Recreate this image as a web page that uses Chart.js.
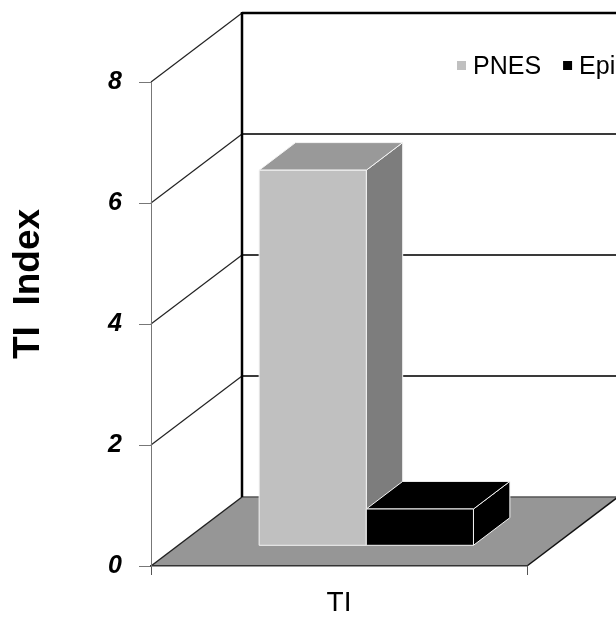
<!DOCTYPE html>
<html>
<head>
<meta charset="utf-8">
<script src="https://cdn.jsdelivr.net/npm/chart.js@4"></script>
<style>
  html, body { margin: 0; padding: 0; background: #fff; overflow: hidden; }
  #wrap { width: 616px; height: 618px; }
</style>
</head>
<body>
<div id="wrap"><canvas id="tiChart" width="616" height="618"></canvas></div>
<script>
// TI index, PNES vs epileptic patients
const categories = ['TI'];
const seriesNames = ['PNES', 'Epileptic'];
const pnesValues = [6.2];
const epiValues = [0.6];
const yTicks = [0, 2, 4, 6, 8];

const FONT = "'Liberation Sans', Arial, sans-serif";

// depth of the 3D box (floor / side wall) and where the bars sit inside it
const depth = { dx: 91, dy: -69 };
const barNear = 0.30;
const barFar = 0.70;

const faceColors = [
    { front: '#c0c0c0', top: '#999999', side: '#7d7d7d' },
    { front: '#000000', top: '#000000', side: '#000000' }
];

function poly(ctx, pts, fill, stroke, lw) {
    ctx.beginPath();
    ctx.moveTo(pts[0][0], pts[0][1]);
    for (let i = 1; i < pts.length; i++) ctx.lineTo(pts[i][0], pts[i][1]);
    ctx.closePath();
    if (fill) { ctx.fillStyle = fill; ctx.fill(); }
    if (stroke) { ctx.strokeStyle = stroke; ctx.lineWidth = lw || 1; ctx.stroke(); }
}

function line(ctx, x1, y1, x2, y2, color, lw) {
    ctx.beginPath();
    ctx.moveTo(x1, y1);
    ctx.lineTo(x2, y2);
    ctx.strokeStyle = color;
    ctx.lineWidth = lw;
    ctx.stroke();
}

const box3d = {
    id: 'box3d',
    beforeDraw(chart) {
        const { ctx, scales: { x, y } } = chart;
        const l = x.left, r = x.right;
        const y0 = y.getPixelForValue(0);
        const dx = depth.dx, dy = depth.dy;
        ctx.save();

        // floor
        poly(ctx, [[l, y0], [r, y0], [r + dx, y0 + dy], [l + dx, y0 + dy]], '#969696');
        line(ctx, l + dx, y0 + dy, r + dx, y0 + dy, '#555', 1.5);
        line(ctx, r, y0, r + dx, y0 + dy, '#111', 1.5);

        // back wall gridlines + side wall diagonals
        yTicks.forEach(v => {
            const py = y.getPixelForValue(v);
            if (v > 0) {
                const isTop = v === y.max;
                line(ctx, l + dx, py + dy, r + dx + 5, py + dy, isTop ? '#000' : '#3a3a3a', isTop ? 2.5 : 2);
            }
            line(ctx, l, py, l + dx, py + dy, '#222', v === 0 ? 1.5 : 1.2);
        });

        // back corner
        line(ctx, l + dx, y.getPixelForValue(y.max) + dy - 1, l + dx, y0 + dy, '#000', 2.5);
        ctx.restore();
    },
    afterDatasetsDraw(chart) {
        const { ctx, scales: { y } } = chart;
        const fx = depth.dx * barNear, fy = depth.dy * barNear;
        const bx = depth.dx * barFar, by = depth.dy * barFar;
        ctx.save();
        chart.data.datasets.forEach((ds, i) => {
            const meta = chart.getDatasetMeta(i);
            meta.data.forEach((el, j) => {
                const xl = el.x - el.width / 2, xr = el.x + el.width / 2;
                const yb = y.getPixelForValue(0);
                const yt = y.getPixelForValue(ds.data[j]);
                const c = faceColors[i];
                const edge = '#f4f4f4';
                poly(ctx, [[xr + fx, yt + fy], [xr + bx, yt + by], [xr + bx, yb + by], [xr + fx, yb + fy]], c.side, edge, 1);
                poly(ctx, [[xl + fx, yt + fy], [xl + bx, yt + by], [xr + bx, yt + by], [xr + fx, yt + fy]], c.top, edge, 1);
                poly(ctx, [[xl + fx, yt + fy], [xr + fx, yt + fy], [xr + fx, yb + fy], [xl + fx, yb + fy]], c.front, edge, 1);
            });
        });
        ctx.restore();
    },
    afterDraw(chart) {
        const { ctx } = chart;
        ctx.save();

        // legend
        ctx.font = '25px ' + FONT;
        ctx.textBaseline = 'alphabetic';
        let lx = 457;
        chart.data.datasets.forEach((ds, i) => {
            ctx.fillStyle = faceColors[i].front;
            ctx.fillRect(lx, 61, 9, 9);
            ctx.fillStyle = '#000';
            ctx.fillText(ds.label, lx + 16, 74);
            lx += 16 + ctx.measureText(ds.label).width + 22;
        });

        // y axis title
        ctx.translate(29, 284);
        ctx.rotate(-Math.PI / 2);
        ctx.font = 'bold 37px ' + FONT;
        ctx.textAlign = 'center';
        ctx.textBaseline = 'middle';
        ctx.fillStyle = '#000';
        ctx.fillText('TI  Index', 0, 0);
        ctx.restore();
    }
};

new Chart(document.getElementById('tiChart'), {
    type: 'bar',
    data: {
        labels: categories,
        datasets: [
            { label: seriesNames[0], data: pnesValues },
            { label: seriesNames[1], data: epiValues }
        ].map(d => ({ ...d, backgroundColor: 'rgba(0,0,0,0)', borderWidth: 0 }))
    },
    options: {
        responsive: false,
        animation: false,
        devicePixelRatio: 1,
        categoryPercentage: 0.57,
        barPercentage: 1,
        layout: { padding: { left: 0, right: 89, top: 82, bottom: 0 } },
        plugins: {
            legend: { display: false },
            tooltip: { enabled: false }
        },
        scales: {
            x: {
                grid: { drawOnChartArea: false, tickLength: 9, color: '#555' },
                border: { color: '#333', width: 1.5 },
                ticks: { color: '#000', font: { family: FONT, size: 28 }, padding: 11 },
                afterFit(scale) { scale.height = 52; }
            },
            y: {
                min: 0,
                max: 8,
                afterBuildTicks(scale) { scale.ticks = yTicks.map(v => ({ value: v })); },
                grid: { drawOnChartArea: false, tickLength: 12, color: '#777' },
                border: { color: '#777', width: 1 },
                ticks: { color: '#000', font: { family: FONT, size: 25, style: 'italic', weight: 'bold' }, padding: 17 },
                afterFit(scale) { scale.width = 151; }
            }
        }
    },
    plugins: [box3d]
});
</script>
</body>
</html>
